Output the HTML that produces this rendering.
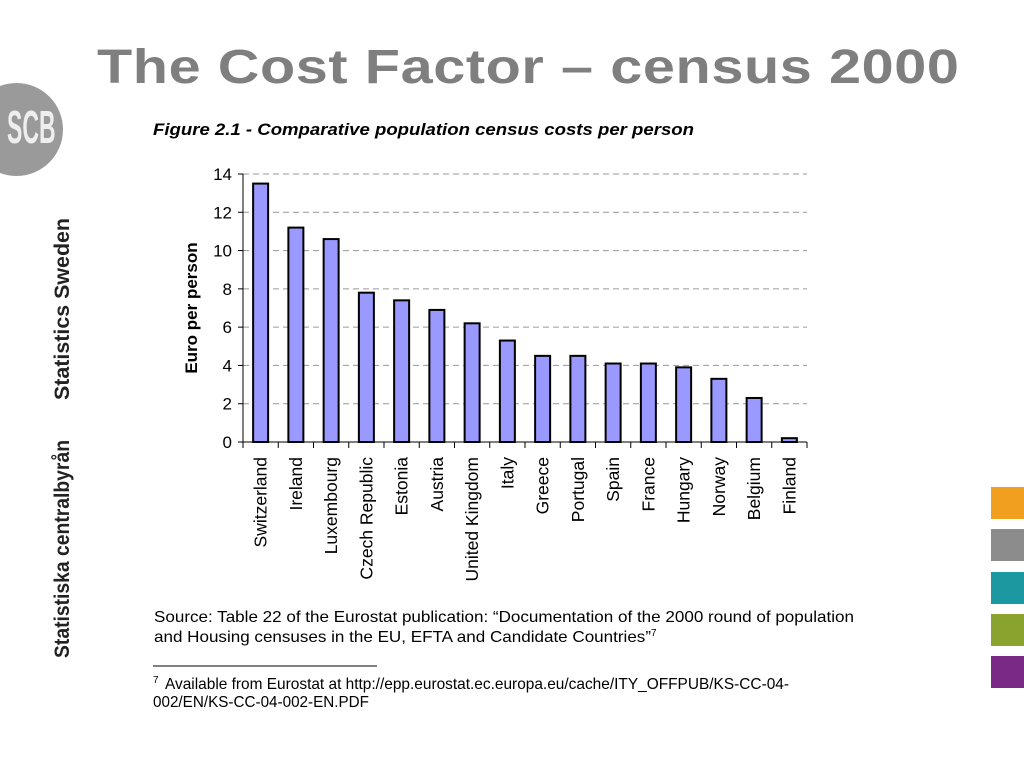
<!DOCTYPE html>
<html><head><meta charset="utf-8"><style>
body{margin:0;width:1024px;height:768px;background:#fff;overflow:hidden;position:relative;font-family:"Liberation Sans",Arial,sans-serif}
.sq{position:absolute;left:991px;width:33px;height:32px}
</style></head><body>
<div style="position:absolute;left:97px;top:40px;font-size:48px;font-weight:bold;color:#7f7f7f;white-space:nowrap;letter-spacing:0.5px;transform:scaleX(1.2);transform-origin:left top">The Cost Factor – census 2000</div>
<div style="position:absolute;left:-30px;top:83px;width:93px;height:93px;border-radius:50%;background:#9a9a9a;color:#eee;font-weight:bold;font-size:46px;line-height:93px;box-sizing:border-box"><span style="position:absolute;left:37px;top:-2px;transform:scaleX(0.5);transform-origin:left">SCB</span></div>
<div class="sq" style="top:487px;background:#f0a01e"></div>
<div class="sq" style="top:529px;background:#8c8c8c"></div>
<div class="sq" style="top:572px;background:#1b98a0"></div>
<div class="sq" style="top:614px;background:#8aa22e"></div>
<div class="sq" style="top:656px;background:#7a2a86"></div>
<svg id="chart" width="1024" height="768" style="position:absolute;left:0;top:0">
<text transform="translate(69,400) rotate(-90)" font-size="21" font-weight="bold" fill="#222" textLength="182" lengthAdjust="spacingAndGlyphs">Statistics Sweden</text>
<text transform="translate(69,658) rotate(-90)" font-size="21" font-weight="bold" fill="#222" textLength="218" lengthAdjust="spacingAndGlyphs">Statistiska centralbyrån</text>
<text x="153" y="135" font-size="16.5" font-weight="bold" font-style="italic" fill="#000" textLength="541" lengthAdjust="spacingAndGlyphs">Figure 2.1 - Comparative population census costs per person</text>
<text transform="translate(197,308) rotate(-90)" text-anchor="middle" font-size="17" font-weight="bold" fill="#000">Euro per person</text>
<g id="g"></g>
<text font-size="16" fill="#000"><tspan x="154" y="622" textLength="700" lengthAdjust="spacingAndGlyphs">Source: Table 22 of the Eurostat publication: “Documentation of the 2000 round of population</tspan><tspan x="154" y="642" textLength="497" lengthAdjust="spacingAndGlyphs">and Housing censuses in the EU, EFTA and Candidate Countries”</tspan><tspan font-size="10" dy="-6">7</tspan></text>
<line x1="153" y1="666" x2="377" y2="666" stroke="#000" stroke-width="1"/>
<text font-size="16" fill="#000"><tspan x="153" y="683" font-size="10">7</tspan><tspan x="165" y="689" textLength="624" lengthAdjust="spacingAndGlyphs">Available from Eurostat at http://epp.eurostat.ec.europa.eu/cache/ITY_OFFPUB/KS-CC-04-</tspan><tspan x="153" y="707" textLength="216" lengthAdjust="spacingAndGlyphs">002/EN/KS-CC-04-002-EN.PDF</tspan></text>
</svg>
<script>
const categories=["Switzerland","Ireland","Luxembourg","Czech Republic","Estonia","Austria","United Kingdom","Italy","Greece","Portugal","Spain","France","Hungary","Norway","Belgium","Finland"];
const values=[13.5,11.2,10.6,7.8,7.4,6.9,6.2,5.3,4.5,4.5,4.1,4.1,3.9,3.3,2.3,0.2];
const yTicks=[0,2,4,6,8,10,12,14];
const X0=243,X1=807,Y0=442,Y1=174,YMAX=14;
const band=(X1-X0)/categories.length;
const y=v=>Y0-(v/YMAX)*(Y0-Y1);
const xc=i=>X0+band*(i+0.5);
const g=document.getElementById('g');const NS='http://www.w3.org/2000/svg';
function mk(t,a){const e=document.createElementNS(NS,t);for(const k in a)e.setAttribute(k,a[k]);g.appendChild(e);return e;}
yTicks.forEach(t=>{
 if(t>0){const l=mk('line',{x1:X0,x2:X1,y1:y(t),y2:y(t),stroke:'#999','stroke-dasharray':'6,4'});
 
 }
 const k=mk('line',{x1:X0-5,x2:X0,y1:y(t),y2:y(t),stroke:'#000'});
 
 
 const tx=mk('text',{x:X0-11,y:y(t)+6,'text-anchor':'end','font-size':17});tx.textContent=t;
 
 
});
values.forEach((v,i)=>{
 const r=mk('rect',{x:xc(i)-7.5,y:y(v),width:15,height:Y0-y(v),fill:'#9999ff',stroke:'#000','stroke-width':2});
 
 
 const t=mk('text',{transform:`translate(${xc(i)+6},457) rotate(-90)`,'text-anchor':'end','font-size':17.5});t.textContent=categories[i];
 
 
});
for(let i=0;i<=categories.length;i++){const k=mk('line',{x1:X0+band*i,x2:X0+band*i,y1:Y0,y2:Y0+6,stroke:'#000'});
 
 }
const ya=mk('line',{x1:X0,x2:X0,y1:Y1,y2:Y0,stroke:'#000'});


const xa=mk('line',{x1:X0,x2:X1,y1:Y0,y2:Y0,stroke:'#000'});


</script>
</body></html>
